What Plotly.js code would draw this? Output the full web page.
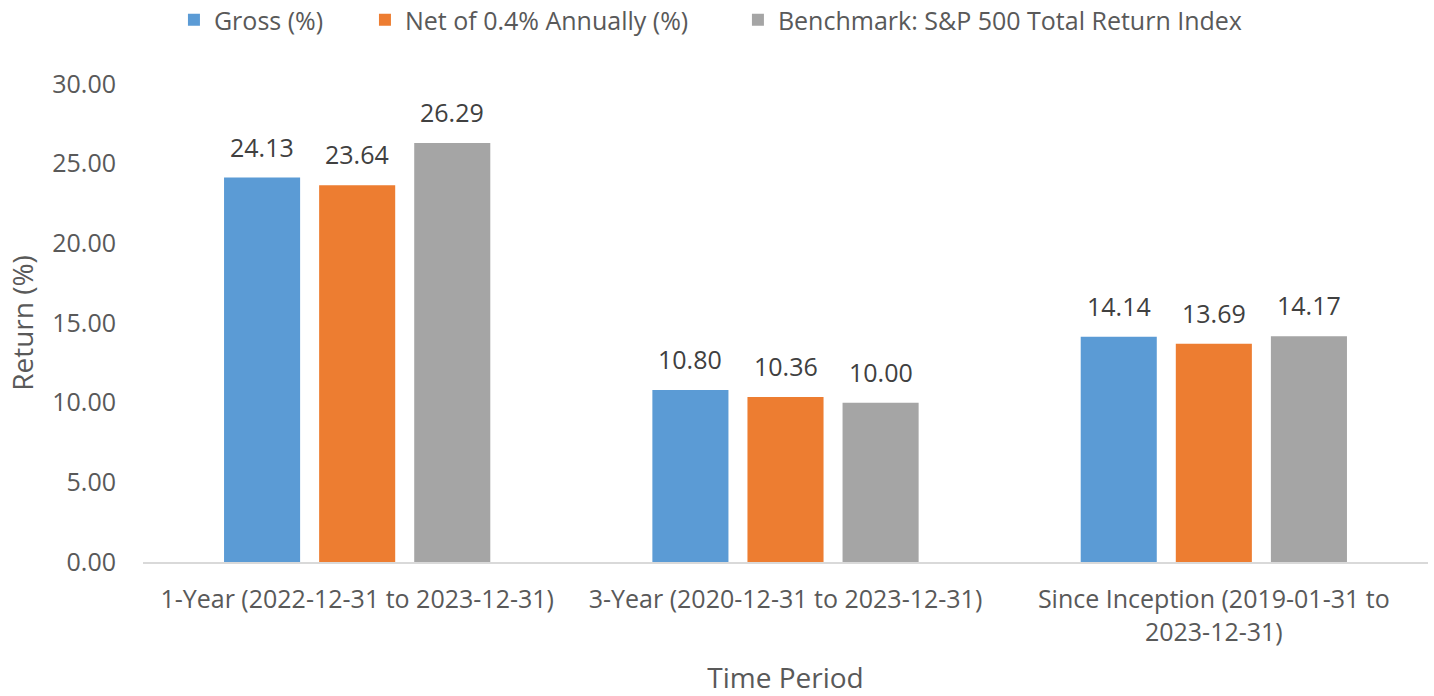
<!DOCTYPE html>
<html>
<head>
<meta charset="utf-8">
<script src="https://cdn.plot.ly/plotly-3.0.1.min.js"></script>
<style>html,body{margin:0;padding:0;background:#fff;}#chart{width:1434px;height:696px;}</style>
</head>
<body>
<div id="chart"></div>
<script>
const categories = [
  "1-Year (2022-12-31 to 2023-12-31)",
  "3-Year (2020-12-31 to 2023-12-31)",
  "Since Inception (2019-01-31 to<br>2023-12-31)"
];
const seriesNames = ["Gross (%)", "Net of 0.4% Annually (%)", "Benchmark: S&P 500 Total Return Index"];
const grossValues = [24.13, 10.80, 14.14];
const netValues = [23.64, 10.36, 13.69];
const benchmarkValues = [26.29, 10.00, 14.17];
const yTicks = [0, 5, 10, 15, 20, 25, 30];

const colors = ["#5b9bd5", "#ed7d31", "#a5a5a5"];
const FONT = "Open Sans, Noto Sans, sans-serif";
const allValues = [grossValues, netValues, benchmarkValues];
const legendIds = ["legend", "legend2", "legend3"];
const legendX = [0.1213, 0.2545, 0.5146];

const W = 1434, H = 696;
const margin = {l: 143, r: 6, t: 84, b: 134};
const bargap = 0.334;
const plotW = W - margin.l - margin.r;
const slot = plotW / categories.length * (1 - bargap) / allValues.length;

const traces = allValues.map((vals, i) => ({
  type: "bar",
  name: seriesNames[i],
  legend: legendIds[i],
  x: categories,
  y: vals,
  marker: {color: colors[i]},
  hoverinfo: "x+y"
}));

const annotations = [];
allValues.forEach((vals, i) => {
  vals.forEach((v, j) => {
    annotations.push({
      xref: "x", yref: "y",
      x: categories[j], y: v,
      text: v.toFixed(2),
      showarrow: false,
      xanchor: "center", yanchor: "bottom",
      xshift: (i - (allValues.length - 1) / 2) * slot,
      yshift: 12,
      font: {family: FONT, size: 25, color: "#404040"}
    });
  });
});

const legendBase = {
  orientation: "h",
  xref: "container", yref: "container",
  xanchor: "left",
  y: 1 - 20 / H, yanchor: "middle",
  font: {family: FONT, size: 25, color: "#595959"},
  itemwidth: 30
};

const layout = {
  width: W,
  height: H,
  paper_bgcolor: "#ffffff",
  plot_bgcolor: "#ffffff",
  margin: margin,
  barmode: "group",
  bargap: bargap,
  bargroupgap: 0.2,
  font: {family: FONT, color: "#595959"},
  showlegend: true,
  legend: Object.assign({}, legendBase, {x: legendX[0]}),
  legend2: Object.assign({}, legendBase, {x: legendX[1]}),
  legend3: Object.assign({}, legendBase, {x: legendX[2]}),
  annotations: annotations,
  xaxis: {
    type: "category",
    showgrid: false,
    showline: true,
    linecolor: "#d9d9d9",
    linewidth: 2,
    ticks: "",
    ticklabelstandoff: 14,
    tickfont: {family: FONT, size: 25, color: "#595959"},
    title: {text: "Time Period", font: {family: FONT, size: 28, color: "#595959"}, standoff: 24}
  },
  yaxis: {
    range: [0, 30],
    tickvals: yTicks,
    ticktext: yTicks.map(v => v.toFixed(2)),
    showgrid: false,
    zeroline: false,
    showline: false,
    ticks: "",
    ticklabelstandoff: 26,
    tickfont: {family: FONT, size: 25, color: "#595959"},
    title: {text: "Return (%)", font: {family: FONT, size: 28, color: "#595959"}, standoff: 10}
  }
};

Plotly.newPlot("chart", traces, layout, {displayModeBar: false, staticPlot: true});
</script>
</body>
</html>
